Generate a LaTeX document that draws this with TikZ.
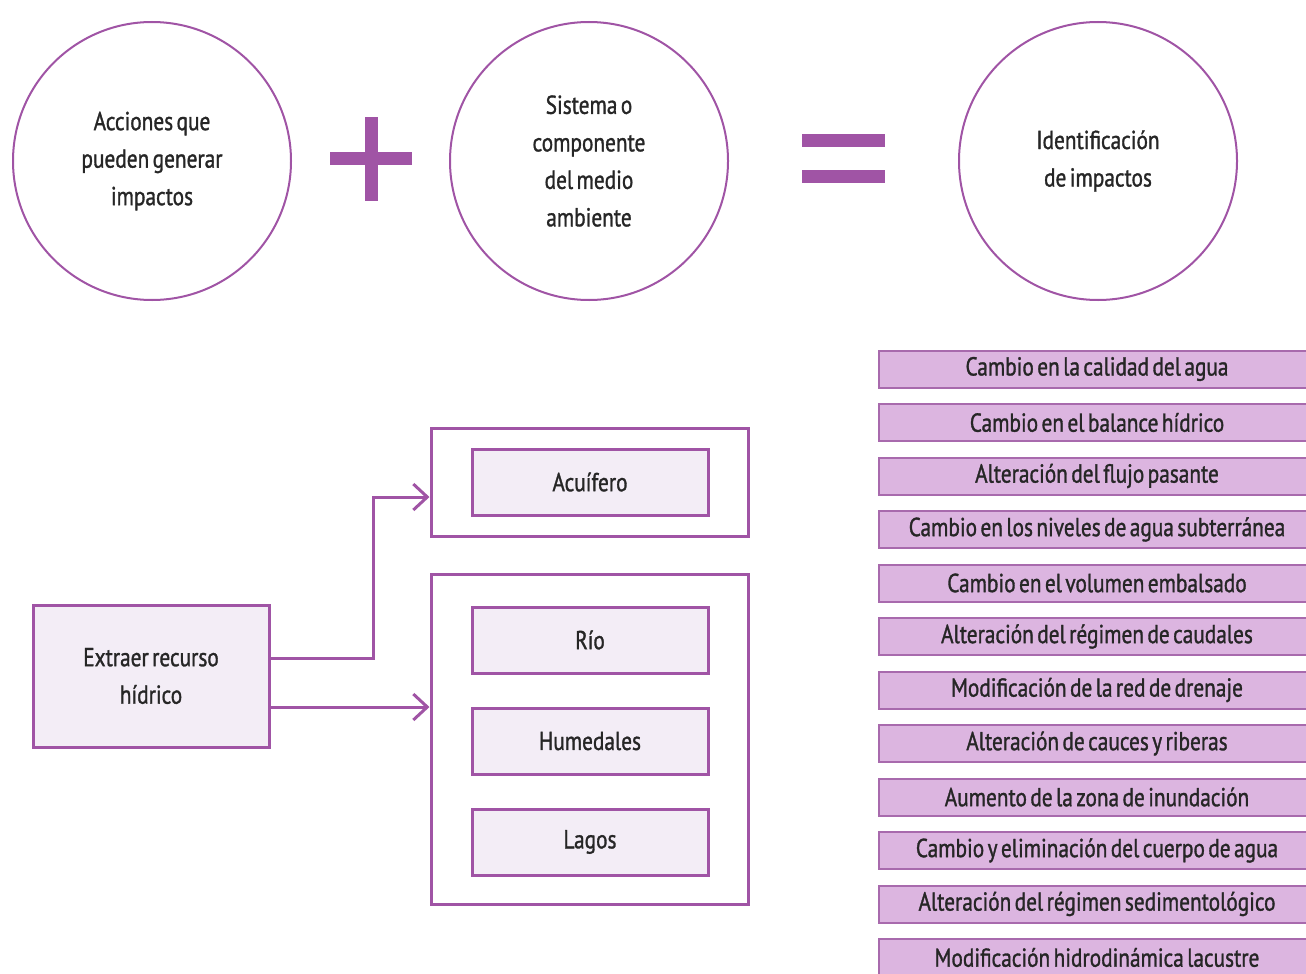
\documentclass[tikz,border=0pt]{standalone}
\usepackage{fontspec}
\setmainfont{PT Sans}[FakeStretch=0.82, FakeBold=1.2, WordSpace=0.6]
\usepackage{xcolor}
\usetikzlibrary{arrows.meta,positioning,calc}

\definecolor{morado}{RGB}{160,84,165}
\definecolor{lila}{RGB}{220,181,224}
\definecolor{lilaborde}{RGB}{168,106,173}
\definecolor{lilaclaro}{RGB}{243,237,246}

\begin{document}
\begin{tikzpicture}[x=1pt, y=-1pt,
    every node/.style={font=\fontsize{26}{37.5}\selectfont, align=center, text=black!85},
    circulo/.style={draw=morado, line width=2pt, circle, minimum size=278pt, inner sep=0pt},
    caja/.style={draw=morado, line width=3pt, fill=lilaclaro, minimum width=236pt, minimum height=66pt, inner sep=0pt},
    marco/.style={draw=morado, line width=3pt, minimum width=317pt, inner sep=0pt},
    efecto/.style={draw=lilaborde, line width=2pt, fill=lila, minimum width=436pt, minimum height=37pt, inner sep=0pt},
    flecha/.style={draw=morado, line width=3pt, -{Straight Barb[length=14pt,width=26pt,line width=3pt]}}]
    \useasboundingbox (0,0) rectangle (1306,974);

    % Top row - the equation
    \node[circulo] (acciones) at (152,161) {Acciones que\\pueden generar\\impactos};
    \node[circulo] (sistema) at (589,161) {Sistema o\\componente\\del medio\\ambiente};
    \node[circulo] (identificacion) at (1098,161) {Identificación\\de impactos};
    \fill[morado] (330,152) rectangle (412,165);
    \fill[morado] (365,117) rectangle (378,201);
    \fill[morado] (802,134) rectangle (885,147);
    \fill[morado] (802,170) rectangle (885,183);

    % Action and the affected components
    \node[caja, minimum height=142pt] (extraer) at (151,676) {Extraer recurso\\hídrico};
    \node[marco, minimum height=108pt] (marcoAcuifero) at (589.5,482) {};
    \node[caja] (acuifero) at (590,482) {Acuífero};
    \node[marco, minimum height=330pt] (marcoAguas) at (589.5,739) {};
    \node[caja] (rio) at (590,640) {Río};
    \node[caja, below=32pt of rio] (humedales) {Humedales};
    \node[caja, below=32pt of humedales] (lagos) {Lagos};

    \draw[flecha] ([yshift=18pt]extraer.east) -- ++(103,0) |- ([yshift=-15pt]marcoAcuifero.west);
    \draw[flecha] ([yshift=-31pt]extraer.east) coordinate (s2) -- (s2 -| marcoAguas.west);

    % Identified impacts
    \foreach \t [count=\i] in {Cambio en la calidad del agua, Cambio en el balance hídrico,
        Alteración del flujo pasante, Cambio en los niveles de agua subterránea,
        Cambio en el volumen embalsado, Alteración del régimen de caudales,
        Modificación de la red de drenaje, Alteración de cauces y riberas,
        Aumento de la zona de inundación, Cambio y eliminación del cuerpo de agua,
        Alteración del régimen sedimentológico, Modificación hidrodinámica lacustre} {
        \node[efecto] (e\i) at (1097, 369+53.5*\i-53.5) {\t};
    }
\end{tikzpicture}
\end{document}
